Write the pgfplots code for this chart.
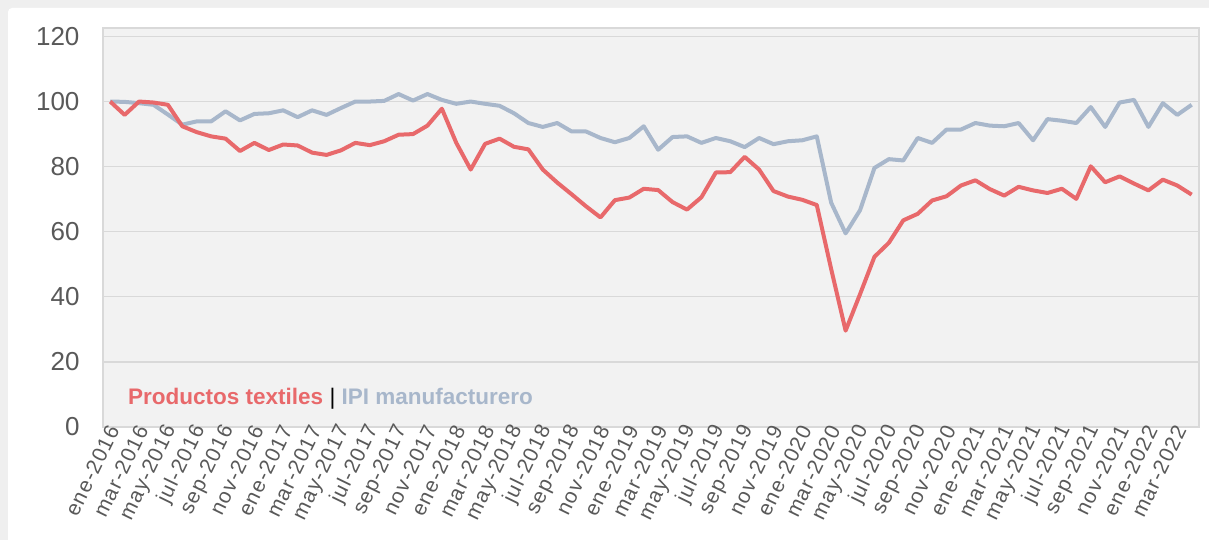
\documentclass[border=0pt]{standalone}
\usepackage{fontspec}
\setmainfont{Liberation Sans}
\newfontfamily\labfont[LetterSpace=6]{Liberation Sans}
\usepackage{pgfplots}
\usepackage{pgfplotstable}
\pgfplotsset{compat=1.18}
\definecolor{txred}{HTML}{E8696B}
\definecolor{ipiblue}{HTML}{A8B7CB}
\definecolor{plotbg}{HTML}{F2F2F2}
\definecolor{gridc}{HTML}{D9D9D9}
\definecolor{ticktext}{HTML}{595959}
\definecolor{framec}{HTML}{EFEFEF}

\pgfplotstableread{
i tex ipi
0 100 100
1 95.9 99.9
2 100 99.5
3 99.7 99
4 99 96
5 92.4 92.9
6 90.6 93.9
7 89.3 93.9
8 88.6 97
9 84.8 94.2
10 87.3 96.2
11 85.1 96.4
12 86.8 97.3
13 86.5 95.2
14 84.3 97.3
15 83.6 95.9
16 85 98
17 87.3 100
18 86.6 100
19 87.8 100.2
20 89.8 102.3
21 90.0 100.3
22 92.6 102.3
23 97.8 100.5
24 87.3 99.3
25 79.1 100
26 87 99.3
27 88.6 98.7
28 86.1 96.4
29 85.3 93.4
30 79.1 92.2
31 75.1 93.4
32 71.5 90.8
33 67.8 90.8
34 64.4 88.8
35 69.7 87.5
36 70.5 88.8
37 73.2 92.4
38 72.8 85.2
39 69.1 89.1
40 66.8 89.3
41 70.6 87.3
42 78.2 88.8
43 78.3 87.8
44 83 86
45 79.1 88.8
46 72.5 86.9
47 70.8 87.8
48 69.8 88.1
49 68.2 89.3
50 48.5 68.9
51 29.6 59.5
52 40.8 66.6
53 52.3 79.6
54 56.6 82.3
55 63.5 81.9
56 65.5 88.8
57 69.6 87.3
58 70.9 91.4
59 74.2 91.4
60 75.8 93.4
61 73.1 92.6
62 71.1 92.4
63 73.8 93.4
64 72.7 88.1
65 71.9 94.6
66 73.2 94.1
67 70.1 93.4
68 80.1 98.3
69 75.2 92.2
70 77 99.7
71 74.8 100.5
72 72.7 92.2
73 76 99.5
74 74.2 95.9
75 71.4 99
}\datatable

\begin{document}
\begin{tikzpicture}[x=1pt,y=1pt]
\useasboundingbox (0,0) rectangle (1209,540);
\fill[framec] (0,0) rectangle (1209,540);
\fill[white, rounded corners=4pt] (8,-10) rectangle (1220,532);
\begin{axis}[
  at={(103pt,113pt)}, anchor=south west,
  scale only axis, width=1096pt, height=399pt,
  xmin=-0.5, xmax=75.5, ymin=0, ymax=122.6,
  axis background/.style={fill=plotbg},
  axis line style={gridc, line width=1.2pt},
  ytick={0,20,...,120},
  ymajorgrids, grid style={gridc, line width=1.2pt},
  xtick={0,2,...,74},
  xticklabels={ene-2016,mar-2016,may-2016,jul-2016,sep-2016,nov-2016,
    ene-2017,mar-2017,may-2017,jul-2017,sep-2017,nov-2017,
    ene-2018,mar-2018,may-2018,jul-2018,sep-2018,nov-2018,
    ene-2019,mar-2019,may-2019,jul-2019,sep-2019,nov-2019,
    ene-2020,mar-2020,may-2020,jul-2020,sep-2020,nov-2020,
    ene-2021,mar-2021,may-2021,jul-2021,sep-2021,nov-2021,
    ene-2022,mar-2022},
  major tick length=0pt,
  tick label style={text=ticktext},
  yticklabel style={font=\fontsize{26}{26}\selectfont, xshift=-20pt},
  xticklabel style={font=\labfont\fontsize{21}{21}\selectfont, rotate=64, anchor=east, xshift=5pt, yshift=-3pt},
  /pgf/number format/assume math mode=true,
]
\addplot[ipiblue, line width=4pt, line join=round, mark=none] table[x=i, y=ipi] {\datatable};
\addplot[txred, line width=4pt, line join=round, mark=none] table[x=i, y=tex] {\datatable};
\end{axis}
\node[anchor=base west, inner sep=0pt, font=\fontsize{22.5}{22.5}\selectfont] at (128,135)
  {\textbf{\textcolor{txred}{Productos textiles}} \textcolor{black}{|} \textbf{\textcolor{ipiblue}{IPI manufacturero}}};
\end{tikzpicture}
\end{document}
